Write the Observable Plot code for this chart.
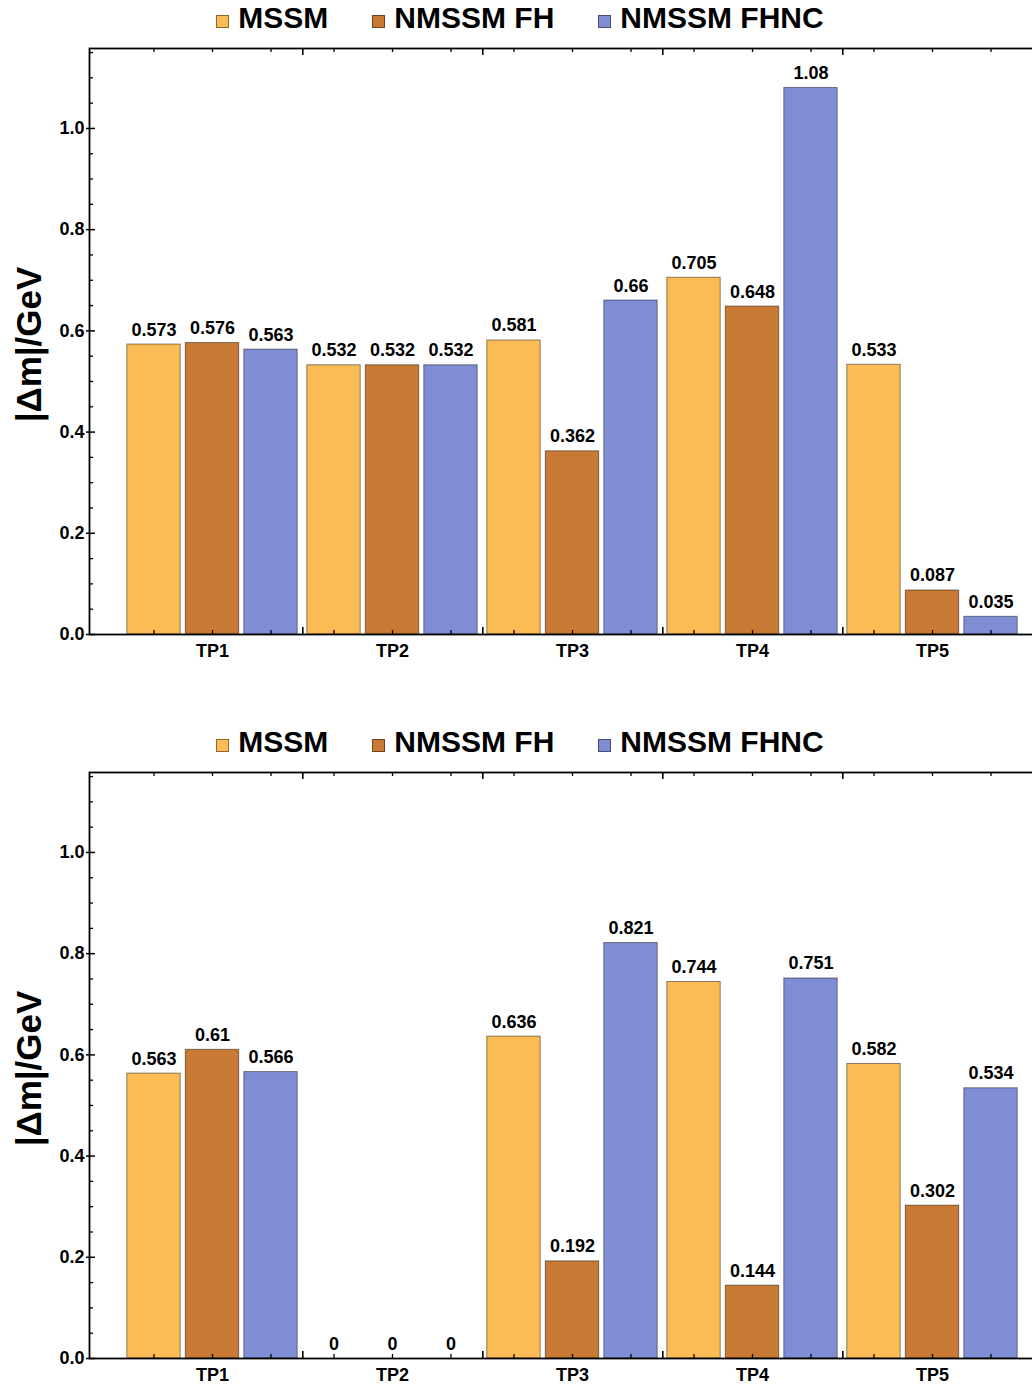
<!DOCTYPE html>
<html>
<head>
<meta charset="utf-8">
<script src="https://cdn.jsdelivr.net/npm/d3@7"></script>
<script src="https://cdn.jsdelivr.net/npm/@observablehq/plot@0.6"></script>
<style>
  body { margin: 0; background: #fff; overflow: hidden; font-family: "Liberation Sans", Arial, Helvetica, sans-serif; }
  .panel { width: 1032px; height: 724px; overflow: hidden; }
  .legend { height: 36px; line-height: 36px; display: flex; justify-content: center; gap: 44px; padding-left: 8px;
            font-size: 30px; font-weight: bold; color: #000; white-space: nowrap; }
  .legend .sw { display: inline-block; width: 11px; height: 11px; margin-right: 9px; vertical-align: baseline;
                border: 1px solid rgba(0,0,0,0.45); }
  .panel svg { display: block; max-width: none !important; width: 1060px !important; height: 688px !important; }
</style>
</head>
<body>
<div id="root"></div>
<script>
// Categories and series
const groups = ["TP1", "TP2", "TP3", "TP4", "TP5"];
const series = ["MSSM", "NMSSM FH", "NMSSM FHNC"];
const colors = ["#FBBC55", "#C87934", "#7F8DD4"];

// |Δm| in GeV, upper chart
const mssmA = [0.573, 0.532, 0.581, 0.705, 0.533];
const fhA   = [0.576, 0.532, 0.362, 0.648, 0.087];
const fhncA = [0.563, 0.532, 0.66, 1.08, 0.035];

// |Δm| in GeV, lower chart
const mssmB = [0.563, 0, 0.636, 0.744, 0.582];
const fhB   = [0.61, 0, 0.192, 0.144, 0.302];
const fhncB = [0.566, 0, 0.821, 0.751, 0.534];

// Axis ticks
const yMajor = [0, 0.2, 0.4, 0.6, 0.8, 1.0];
const yMinor = d3.range(0, 1.151, 0.05).filter(v => !yMajor.some(m => Math.abs(m - v) < 1e-9));

const W = 1060, H = 688, mTop = 12, mBottom = 90, mLeft = 89;
const frameW = W - mLeft, frameH = H - mTop - mBottom;
const step = 58.5;          // distance between bar centres within a group
const band = 180.6;         // width of one group
const barW = 54;
const inset = (band - barW) / 2;
const offsets = [-step, 0, step];

function legend() {
  const div = document.createElement("div");
  div.className = "legend";
  series.forEach((s, i) => {
    const item = document.createElement("span");
    const sw = document.createElement("span");
    sw.className = "sw";
    sw.style.background = colors[i];
    item.appendChild(sw);
    item.appendChild(document.createTextNode(s));
    div.appendChild(item);
  });
  return div;
}

function chart(values) {
  const rows = groups.flatMap((g, i) => series.map((s, j) => ({group: g, series: s, k: j, value: values[j][i]})));
  const marks = [];
  series.forEach((s, j) => {
    const d = rows.filter(r => r.k === j);
    marks.push(Plot.barY(d.filter(r => r.value > 0), {
      x: "group", y: "value", fill: "series",
      stroke: "#000", strokeOpacity: 0.45, strokeWidth: 1,
      insetLeft: inset, insetRight: inset, dx: offsets[j]
    }));
    marks.push(Plot.text(d, {
      x: "group", y: "value", text: r => String(r.value),
      dx: offsets[j], dy: -9, lineAnchor: "bottom",
      fontSize: 18, fontWeight: "bold", fill: "#000"
    }));
  });
  // tick marks at bar centres (bottom and top edges of the frame)
  offsets.forEach(o => {
    marks.push(Plot.ruleX(groups, {x: d => d, dx: o, insetTop: frameH - 4, stroke: "#000", strokeWidth: 1.3}));
    marks.push(Plot.ruleX(groups, {x: d => d, dx: o, insetBottom: frameH - 4, stroke: "#000", strokeWidth: 1.3}));
  });
  // longer ticks between groups
  const inner = groups.slice(0, -1);
  marks.push(Plot.ruleX(inner, {x: d => d, dx: band / 2, insetTop: frameH - 7, stroke: "#000", strokeWidth: 1.6}));
  marks.push(Plot.ruleX(inner, {x: d => d, dx: band / 2, insetBottom: frameH - 7, stroke: "#000", strokeWidth: 1.6}));
  // y ticks
  marks.push(Plot.ruleY(yMajor, {y: d => d, insetLeft: -3, insetRight: frameW - 6, stroke: "#000", strokeWidth: 1.5}));
  marks.push(Plot.ruleY(yMinor, {y: d => d, insetRight: frameW - 4, stroke: "#000", strokeWidth: 1.3}));
  marks.push(Plot.frame({stroke: "#000", strokeWidth: 1.8}));
  // y-axis title
  marks.push(Plot.text(["|Δm|/GeV"], {
    text: d => d, frameAnchor: "left", textAnchor: "middle", lineAnchor: "middle",
    rotate: -90, dx: -60, dy: 3,
    fontSize: 35, fontWeight: "bold", fill: "#000"
  }));

  return Plot.plot({
    width: W, height: H,
    marginTop: mTop, marginBottom: mBottom, marginLeft: mLeft, marginRight: 0,
    style: {fontFamily: '"Liberation Sans", Arial, Helvetica, sans-serif', fontSize: "18px", fontWeight: "bold", color: "#000", background: "#fff"},
    x: {type: "band", domain: groups, range: [120, 120 + 5 * band], padding: 0, tickSize: 0, tickPadding: 10, label: null},
    y: {domain: [0, 1.158], ticks: yMajor, tickFormat: d3.format(".1f"), tickSize: 0, tickPadding: 5, label: null},
    color: {domain: series, range: colors},
    marks
  });
}

const root = document.getElementById("root");
[[mssmA, fhA, fhncA], [mssmB, fhB, fhncB]].forEach(vals => {
  const panel = document.createElement("div");
  panel.className = "panel";
  panel.appendChild(legend());
  panel.appendChild(chart(vals));
  root.appendChild(panel);
});
</script>
</body>
</html>
